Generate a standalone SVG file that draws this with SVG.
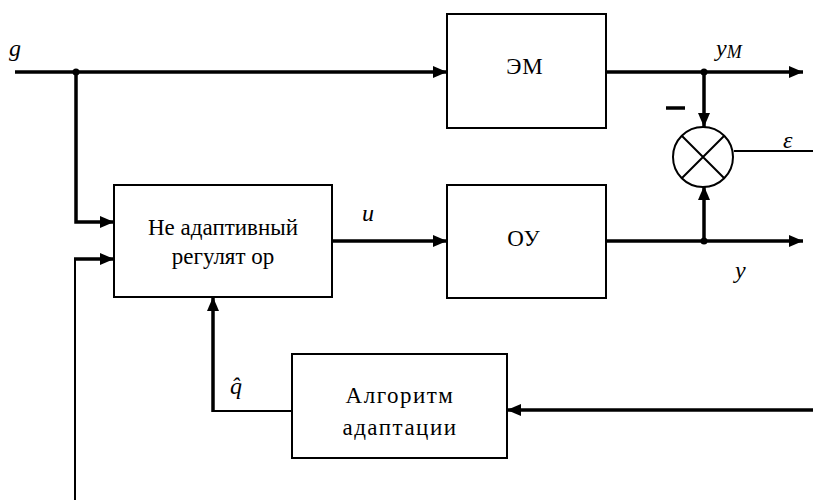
<svg xmlns="http://www.w3.org/2000/svg" width="813" height="500" viewBox="0 0 813 500">
  <defs>
    <marker id="arrow" viewBox="0 0 14 12" refX="14" refY="6" markerWidth="14" markerHeight="12" markerUnits="userSpaceOnUse" orient="auto">
      <path d="M0,0 L14,6 L0,12 Z" fill="#000"/>
    </marker>
    <style>
      .box { fill: #fff; stroke: #000; stroke-width: 2; }
      .thick { fill: none; stroke: #000; stroke-width: 3.5; }
      .thin { fill: none; stroke: #000; stroke-width: 2; }
      .lbl { font-family: "Liberation Serif", "DejaVu Serif", serif; font-size: 23px; fill: #000; }
      .blk { font-family: "Liberation Serif", "DejaVu Serif", serif; font-size: 23px; fill: #000; letter-spacing: 1px; }
      .var { font-family: "Liberation Serif", serif; font-style: italic; font-size: 24px; fill: #000; }
    </style>
  </defs>
  <rect width="813" height="500" fill="#fff"/>

  <!-- connectors -->
  <g id="connectors">
    <!-- reference input g to the model -->
    <path class="thick" d="M15,72 H447" marker-end="url(#arrow)"/>
    <!-- g branch into the controller -->
    <path class="thick" d="M76,72 V222 H114" marker-end="url(#arrow)"/>
    <!-- second controller input -->
    <path class="thin" d="M75,500 V259"/>
    <path class="thick" d="M74,259 H114" marker-end="url(#arrow)"/>
    <!-- control signal u -->
    <path class="thick" d="M332,241 H447" marker-end="url(#arrow)"/>
    <!-- model output yM -->
    <path class="thick" d="M606,72 H803" marker-end="url(#arrow)"/>
    <path class="thick" d="M704,72 V127" marker-end="url(#arrow)"/>
    <!-- plant output y -->
    <path class="thick" d="M606,241 H803" marker-end="url(#arrow)"/>
    <path class="thick" d="M704,241 V186" marker-end="url(#arrow)"/>
    <!-- error epsilon -->
    <path class="thin" d="M734,151 H813"/>
    <!-- adaptation input -->
    <path class="thick" d="M813,410 H507" marker-end="url(#arrow)"/>
    <!-- parameter estimate q-hat -->
    <path class="thin" d="M292,411 H213"/>
    <path class="thick" d="M213,412 V297" marker-end="url(#arrow)"/>
    <!-- junction points -->
    <circle cx="76" cy="72" r="3.5" fill="#000"/>
    <circle cx="704" cy="72" r="3.5" fill="#000"/>
    <circle cx="704" cy="241" r="3.5" fill="#000"/>
  </g>

  <!-- reference model -->
  <g id="model">
    <rect class="box" x="447" y="14" width="159" height="114"/>
    <text class="blk" x="525" y="74" text-anchor="middle">ЭМ</text>
  </g>

  <!-- plant -->
  <g id="plant">
    <rect class="box" x="447" y="185" width="159" height="113"/>
    <text class="blk" x="524" y="246" text-anchor="middle">ОУ</text>
  </g>

  <!-- non-adaptive controller -->
  <g id="controller">
    <rect class="box" x="114" y="185" width="218" height="112"/>
    <text class="lbl" x="223" y="235" text-anchor="middle">Не адаптивный</text>
    <text class="lbl" x="223" y="264" text-anchor="middle">регулят ор</text>
  </g>

  <!-- adaptation algorithm -->
  <g id="adaptation">
    <rect class="box" x="292" y="354" width="215" height="104"/>
    <text class="lbl" x="400" y="403" text-anchor="middle" letter-spacing="1.5">Алгоритм</text>
    <text class="lbl" x="400" y="435" text-anchor="middle" letter-spacing="1.5">адаптации</text>
  </g>

  <!-- comparator -->
  <g id="comparator">
    <circle cx="703" cy="157" r="30" fill="#fff" stroke="#000" stroke-width="2"/>
    <path class="thin" d="M682,136 L724,178 M724,136 L682,178" stroke-width="1.5"/>
  </g>

  <!-- signal labels -->
  <g id="labels">
    <text class="var" x="9" y="56">g</text>
    <text class="var" x="716" y="56">y<tspan font-size="18" dy="2">M</tspan></text>
    <path d="M666,108 H685" stroke="#000" stroke-width="3.5"/>
    <text class="var" x="783" y="148" font-size="20">ε</text>
    <text class="var" x="362" y="221">u</text>
    <text class="var" x="735" y="278">y</text>
    <text class="var" x="230" y="394">q̂</text>
  </g>
</svg>
